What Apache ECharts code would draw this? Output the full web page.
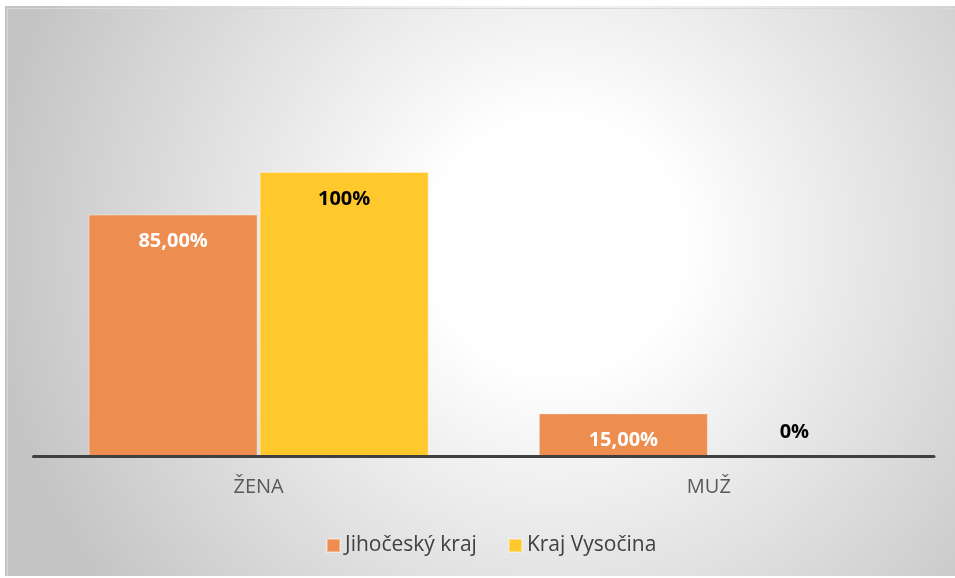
<!DOCTYPE html>
<html>
<head>
<meta charset="utf-8">
<script src="https://cdn.jsdelivr.net/npm/echarts@6/dist/echarts.min.js"></script>
<style>
html,body{margin:0;padding:0;background:#ffffff;width:955px;height:578px;overflow:hidden;}
#chart{position:absolute;left:5px;top:6px;width:950px;height:570px;}
</style>
</head>
<body>
<div id="chart"></div>
<script>
const categories = ['ŽENA', 'MUŽ'];
const seriesNames = ['Jihočeský kraj', 'Kraj Vysočina'];
const jihocesky = [85, 15];
const vysocina = [100, 0];
const jihoceskyLabels = ['85,00%', '15,00%'];
const vysocinaLabels = ['100%', '0%'];

const FONT = '"Open Sans", "Noto Sans", sans-serif';
const chart = echarts.init(document.getElementById('chart'));

function labelData(values, labels, color) {
  return values.map((v, i) => {
    const zero = v === 0;
    return {
      value: v,
      label: {
        show: true,
        formatter: labels[i],
        position: zero ? 'top' : 'insideTop',
        distance: zero ? 13 : 17,
        color: color,
        fontFamily: FONT,
        fontWeight: 'bold',
        fontSize: 20,
        lineHeight: 20
      }
    };
  });
}

chart.setOption({
  animation: false,
  backgroundColor: {
    type: 'radial', x: 0.58, y: 0.42, r: 1.0,
    colorStops: [
      { offset: 0, color: '#ffffff' },
      { offset: 0.22, color: '#ffffff' },
      { offset: 1, color: '#c4c4c4' }
    ]
  },
  graphic: [{
    type: 'rect', left: 0, top: 0,
    shape: { x: 0.5, y: 0.5, width: 949, height: 569 },
    style: { fill: 'none', stroke: '#d8d8d8', lineWidth: 1 },
    silent: true
  }],
  grid: { left: 28.5, right: 21, top: 166, bottom: 120, containLabel: false },
  legend: {
    left: 316, top: 524,
    itemWidth: 13, itemHeight: 13, itemGap: 31,
    icon: 'rect',
    data: seriesNames,
    textStyle: { color: '#404040', fontFamily: FONT, fontSize: 21 }
  },
  xAxis: {
    type: 'category',
    data: categories,
    z: 5,
    axisLine: { show: true, lineStyle: { color: '#404040', width: 3 } },
    axisTick: { show: false },
    axisLabel: { color: '#595959', fontFamily: FONT, fontSize: 20, margin: 21 },
    splitLine: { show: false }
  },
  yAxis: {
    type: 'value', min: 0, max: 100, show: false,
    splitLine: { show: false }
  },
  series: [
    {
      name: seriesNames[0], type: 'bar', barWidth: 169, barGap: '1.2%',
      itemStyle: { color: '#ED8E50', borderColor: 'rgba(255,255,255,0.35)', borderWidth: 1 },
      data: labelData(jihocesky, jihoceskyLabels, '#ffffff')
    },
    {
      name: seriesNames[1], type: 'bar', barWidth: 169,
      itemStyle: { color: '#FFC82C', borderColor: 'rgba(255,255,255,0.35)', borderWidth: 1 },
      data: labelData(vysocina, vysocinaLabels, '#000000')
    }
  ]
});
</script>
</body>
</html>
